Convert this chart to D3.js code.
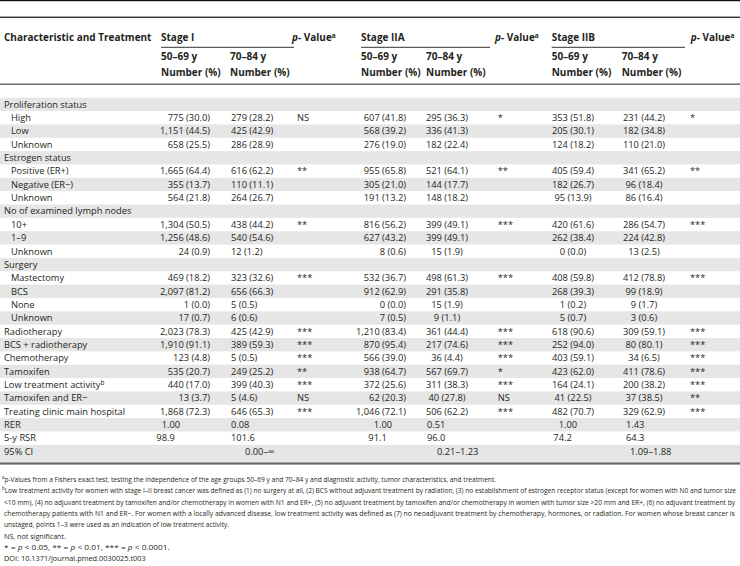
<!DOCTYPE html>
<html><head><meta charset="utf-8">
<script src="https://cdn.jsdelivr.net/npm/d3@7"></script>
<style>
html,body{margin:0;padding:0;background:#fff;}
svg{display:block;font-family:"Open Sans",sans-serif;}
</style></head>
<body><svg id="chart" width="740" height="566"></svg>
<script>
// ---------- DATA ----------
const stages = ["Stage I", "Stage IIA", "Stage IIB"];
const ageGroups = ["50–69 y", "70–84 y"];
const rowLabels = ["Proliferation status","High","Low","Unknown","Estrogen status","Positive (ER+)","Negative (ER−)","Unknown",
  "No of examined lymph nodes","10+","1–9","Unknown","Surgery","Mastectomy","BCS","None","Unknown","Radiotherapy",
  "BCS + radiotherapy","Chemotherapy","Tamoxifen","Low treatment activity","Tamoxifen and ER−","Treating clinic main hospital",
  "RER","5-y RSR","95% CI"];
const rowIndent = [0,1,1,1,0,1,1,1,0,1,1,1,0,1,1,1,1,0,0,0,0,0,0,0,0,0,0];
const rowNote = {21: "b"};

// Stage I
const s1n = [null,775,1151,658,null,1665,355,564,null,1304,1256,24,null,469,2097,1,17,2023,1910,123,535,440,13,1868];
const s1p = [null,30.0,44.5,25.5,null,64.4,13.7,21.8,null,50.5,48.6,0.9,null,18.2,81.2,0.0,0.7,78.3,91.1,4.8,20.7,17.0,3.7,72.3];
const s2n = [null,279,425,286,null,616,110,264,null,438,540,12,null,323,656,5,6,425,389,5,249,399,5,646];
const s2p = [null,28.2,42.9,28.9,null,62.2,11.1,26.7,null,44.2,54.6,1.2,null,32.6,66.3,0.5,0.6,42.9,59.3,0.5,25.2,40.3,4.6,65.3];
const sP  = [null,"NS",null,null,null,"**",null,null,null,"**",null,null,null,"***",null,null,null,"***","***","***","**","***","NS","***"];
// Stage IIA
const a1n = [null,607,568,276,null,955,305,191,null,816,627,8,null,532,912,0,7,1210,870,566,938,372,62,1046];
const a1p = [null,41.8,39.2,19.0,null,65.8,21.0,13.2,null,56.2,43.2,0.6,null,36.7,62.9,0.0,0.5,83.4,95.4,39.0,64.7,25.6,20.3,72.1];
const a2n = [null,295,336,182,null,521,144,148,null,399,399,15,null,498,291,15,9,361,217,36,567,311,40,506];
const a2p = [null,36.3,41.3,22.4,null,64.1,17.7,18.2,null,49.1,49.1,1.9,null,61.3,35.8,1.9,1.1,44.4,74.6,4.4,69.7,38.3,27.8,62.2];
const aP  = [null,"*",null,null,null,"**",null,null,null,"***",null,null,null,"***",null,null,null,"***","***","***","*","***","NS","***"];
// Stage IIB
const b1n = [null,353,205,124,null,405,182,95,null,420,262,0,null,408,268,1,5,618,252,403,423,164,41,482];
const b1p = [null,51.8,30.1,18.2,null,59.4,26.7,13.9,null,61.6,38.4,0.0,null,59.8,39.3,0.2,0.7,90.6,94.0,59.1,62.0,24.1,22.5,70.7];
const b2n = [null,231,182,110,null,341,96,86,null,286,224,13,null,412,99,9,3,309,80,34,411,200,37,329];
const b2p = [null,44.2,34.8,21.0,null,65.2,18.4,16.4,null,54.7,42.8,2.5,null,78.8,18.9,1.7,0.6,59.1,80.1,6.5,78.6,38.2,38.5,62.9];
const bP  = [null,"*",null,null,null,"**",null,null,null,"***",null,null,null,"***",null,null,null,"***","***","***","***","***","**","***"];

// Survival rows (per stage)
const rerYoung = [1.00, 1.00, 1.00];
const rerOld   = [0.08, 0.51, 1.43];
const rsrYoung = [98.9, 91.1, 74.2];
const rsrOld   = [101.6, 96.0, 64.3];
const ciText   = ["0.00–∞", "0.21–1.23", "1.09–1.88"];

const footA = "p-Values from a Fishers exact test, testing the independence of the age groups 50–69 y and 70–84 y and diagnostic activity, tumor characteristics, and treatment.";
const footB = [
 "Low treatment activity for women with stage I–II breast cancer was defined as (1) no surgery at all, (2) BCS without adjuvant treatment by radiation, (3) no establishment of estrogen receptor status (except for women with N0 and tumor size",
 "<10 mm), (4) no adjuvant treatment by tamoxifen and/or chemotherapy in women with N1 and ER+, (5) no adjuvant treatment by tamoxifen and/or chemotherapy in women with tumor size >20 mm and ER+, (6) no adjuvant treatment by",
 "chemotherapy patients with N1 and ER−. For women with a locally advanced disease, low treatment activity was defined as (7) no neoadjuvant treatment by chemotherapy, hormones, or radiation. For women whose breast cancer is",
 "unstaged, points 1–3 were used as an indication of low treatment activity."];
const footNS = "NS, not significant.";
const footDOI = "DOI: 10.1371/journal.pmed.0030025.t003";

// ---------- LAYOUT ----------
const svg = d3.select("#chart");
const ink = "#231f20";
const bodySize = 9.3, headSize = 10;
const nRows = rowLabels.length;
const y = d3.scaleBand().domain(d3.range(nRows)).range([97.7, 97.7 + nRows * 13.35]).padding(0);
const stageX = d3.scaleOrdinal().domain(stages).range([161, 361, 551.7]);
const age2X = d3.scaleOrdinal().domain(stages).range([230, 426, 621.7]);
const pX = d3.scaleOrdinal().domain(stages).range([292, 495, 690.7]);
const pValX = d3.scaleOrdinal().domain(stages).range([297, 497.7, 690]);
const lineEnd = d3.scaleOrdinal().domain(stages).range([294, 490, 685]);

const colSpec = [
  {stage:"Stage I",  n:s1n, p:s1p, x:210,   anchor:"end"},
  {stage:"Stage I",  n:s2n, p:s2p, x:231,   anchor:"start"},
  {stage:"Stage IIA",n:a1n, p:a1p, x:406,   anchor:"end"},
  {stage:"Stage IIA",n:a2n, p:a2p, x:447,   anchor:"middle"},
  {stage:"Stage IIB",n:b1n, p:b1p, x:573,   anchor:"middle"},
  {stage:"Stage IIB",n:b2n, p:b2p, x:644,   anchor:"middle"}
];
const pCols = [{stage:"Stage I", v:sP},{stage:"Stage IIA", v:aP},{stage:"Stage IIB", v:bP}];
const decX = d3.scaleOrdinal().domain(stages).range([167, 379, 564]);
const oldX = d3.scaleOrdinal().domain(stages).range([231, 427, 626]);
const ciX  = d3.scaleOrdinal().domain(stages).range([245, 437, 630]);

// zebra rows
svg.append("g").selectAll("rect").data(d3.range(nRows).filter(i => i % 2 === 0)).join("rect")
  .attr("x", 0).attr("width", 740)
  .attr("y", i => y(i))
  .attr("height", i => i === nRows - 1 ? 462 - y(i) : y.bandwidth())
  .attr("fill", "#e6e6e6");

// rules
svg.append("rect").attr("x",0).attr("y",0).attr("width",740).attr("height",1.2).attr("fill","#111");
svg.append("rect").attr("x",0).attr("y",16.6).attr("width",740).attr("height",1.3).attr("fill","#222");
svg.append("rect").attr("x",0).attr("y",83.6).attr("width",740).attr("height",1.1).attr("fill","#333");
svg.append("rect").attr("x",0).attr("y",462.4).attr("width",740).attr("height",2.2).attr("fill","#666");

// header
const head = svg.append("g").attr("fill", ink).attr("font-weight", "bold").attr("font-size", headSize);
head.append("text").attr("x", 4).attr("y", 41.3).text("Characteristic and Treatment");
stages.forEach(s => {
  head.append("text").attr("x", stageX(s)).attr("y", 41.3).text(s);
  svg.append("line").attr("x1", stageX(s)).attr("x2", lineEnd(s)).attr("y1", 47.3).attr("y2", 47.3)
     .attr("stroke", "#333").attr("stroke-width", 1);
  const pt = head.append("text").attr("x", pX(s)).attr("y", 41.3);
  pt.append("tspan").attr("font-style", "italic").text("p");
  pt.append("tspan").text("- Value");
  pt.append("tspan").attr("font-size", 6.5).attr("dy", -3.5).text("a");
  [stageX(s), age2X(s)].forEach((x, k) => {
    head.append("text").attr("x", x).attr("y", 60).text(ageGroups[k]);
    head.append("text").attr("x", x).attr("y", 75.6).text("Number (%)");
  });
});

// body
const body = svg.append("g").attr("fill", ink).attr("font-size", bodySize);
const base = i => y(i) + y.bandwidth() / 2 + 3.3;
rowLabels.forEach((lab, i) => {
  const t = body.append("text").attr("x", rowIndent[i] ? 11 : 4).attr("y", base(i)).text(lab);
  if (rowNote[i]) t.append("tspan").attr("font-size", 6.3).attr("dy", -3.5).text(rowNote[i]);
});
const fmtN = d3.format(",");
colSpec.forEach(c => {
  c.n.forEach((n, i) => {
    if (n === null) return;
    body.append("text").attr("x", c.x).attr("y", base(i)).attr("text-anchor", c.anchor)
      .text(fmtN(n) + " (" + c.p[i].toFixed(1) + ")");
  });
});
pCols.forEach(c => {
  c.v.forEach((v, i) => {
    if (!v) return;
    body.append("text").attr("x", pValX(c.stage)).attr("y", base(i)).text(v);
  });
});
const rerRow = rowLabels.indexOf("RER"), rsrRow = rowLabels.indexOf("5-y RSR"), ciRow = rowLabels.indexOf("95% CI");
function decimalText(x, row, str) {
  const parts = str.split(".");
  body.append("text").attr("x", x).attr("y", base(row)).attr("text-anchor", "end").text(parts[0]);
  body.append("text").attr("x", x).attr("y", base(row)).attr("text-anchor", "start").text("." + parts[1]);
}
stages.forEach((s, k) => {
  decimalText(decX(s), rerRow, rerYoung[k].toFixed(2));
  decimalText(decX(s), rsrRow, rsrYoung[k].toFixed(1));
  body.append("text").attr("x", oldX(s)).attr("y", base(rerRow)).text(rerOld[k].toFixed(2));
  body.append("text").attr("x", oldX(s)).attr("y", base(rsrRow)).text(rsrOld[k].toFixed(1));
  body.append("text").attr("x", ciX(s)).attr("y", base(ciRow)).text(ciText[k]);
});

// footnotes (condensed via horizontal scale)
const fsz = 7.8;
const foot = svg.append("g").attr("fill", ink).attr("font-size", fsz);
const fBase = [481.8, 493.2, 504.6, 516.0, 527.4, 538.6, 549.8, 561.0];
const lines = [];
function fline(k, x0, target, build) {
  const t = foot.append("text").attr("x", 0).attr("y", 0);
  build(t);
  lines.push({t, x0, k, target});
}
fline(0, 2, null, t => { t.append("tspan").attr("font-size", 5.2).attr("dy", -3).text("a");
  t.append("tspan").attr("dy", 3).text(footA); });
footB.forEach((s, k) => {
  fline(1 + k, k === 0 ? 2 : 4, k < 3 ? "full" : null, t => {
    if (k === 0) { t.append("tspan").attr("font-size", 5.2).attr("dy", -3).text("b");
      t.append("tspan").attr("dy", 3).text(s); }
    else t.text(s);
  });
});
fline(5, 4, 66, t => t.text(footNS));
fline(6, 4, 170, t => {
  [["* = ",0],["p",1],[" < 0.05, ** = ",0],["p",1],[" < 0.01, *** = ",0],["p",1],[" < 0.0001.",0]].forEach(([s,it]) => {
    const sp = t.append("tspan").text(s); if (it) sp.attr("font-style","italic");
  });
});
fline(7, 4, 146, t => t.text(footDOI));
const refW = lines[1].t.node().getComputedTextLength();
const kx = (736 - 2) / refW;
lines.forEach(l => {
  const w = l.t.node().getComputedTextLength();
  let s;
  if (l.target === "full") s = (736 - l.x0) / w;
  else if (l.target) s = (l.target - l.x0) / w;
  else s = kx;
  l.t.attr("transform", `translate(${l.x0},${fBase[l.k]}) scale(${s},1)`);
});
</script></body></html>
